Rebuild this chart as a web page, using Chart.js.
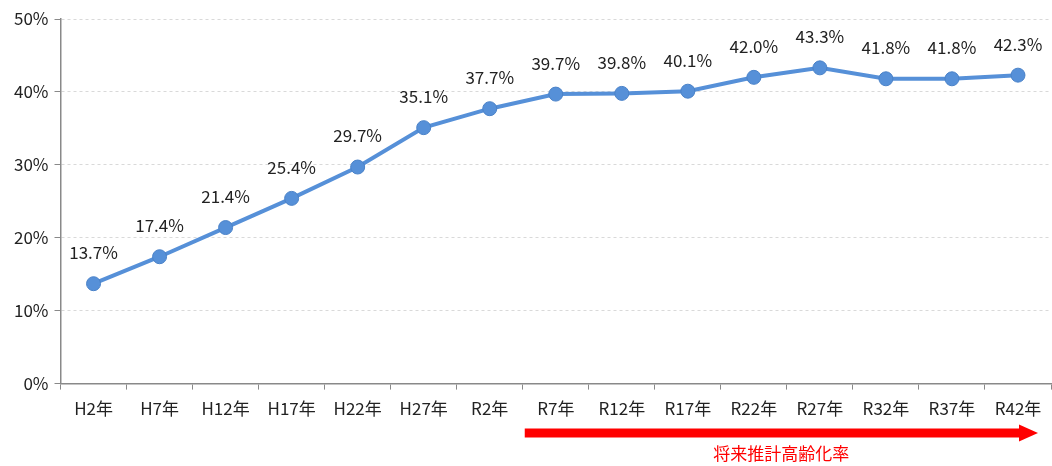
<!DOCTYPE html>
<html>
<head>
<meta charset="utf-8">
<script src="https://cdn.jsdelivr.net/npm/chart.js@4"></script>
<style>
  html, body { margin: 0; padding: 0; background: #fff; }
  #wrap { width: 1052px; height: 466px; }
</style>
</head>
<body>
<div id="wrap"><canvas id="chart" width="1052" height="466"></canvas></div>
<script>
var years = ['H2年', 'H7年', 'H12年', 'H17年', 'H22年', 'H27年', 'R2年', 'R7年', 'R12年', 'R17年', 'R22年', 'R27年', 'R32年', 'R37年', 'R42年'];
var agingRate = [13.7, 17.4, 21.4, 25.4, 29.7, 35.1, 37.7, 39.7, 39.8, 40.1, 42.0, 43.3, 41.8, 41.8, 42.3];
var yTicks = [0, 10, 20, 30, 40, 50];
var forecastFrom = 'R7年';
var forecastLabel = '将来推計高齢化率';

var FONT = '"Noto Sans CJK JP", "Noto Sans", sans-serif';

// value labels above each point
var pointLabels = {
  id: 'pointLabels',
  afterDatasetsDraw: function (chart) {
    var ctx = chart.ctx;
    var meta = chart.getDatasetMeta(0);
    ctx.save();
    ctx.font = '17px ' + FONT;
    ctx.fillStyle = '#222';
    ctx.textAlign = 'center';
    ctx.textBaseline = 'middle';
    meta.data.forEach(function (pt, i) {
      ctx.fillText(agingRate[i].toFixed(1) + '%', pt.x, pt.y - 31);
    });
    ctx.restore();
  }
};

// red forecast arrow under the x axis
var forecastArrow = {
  id: 'forecastArrow',
  afterDraw: function (chart) {
    var x = chart.scales.x;
    var ctx = chart.ctx;
    var idx = years.indexOf(forecastFrom);
    var half = (x.getPixelForValue(1) - x.getPixelForValue(0)) / 2;
    var x0 = x.getPixelForValue(idx) - half + 2;
    var x1 = chart.chartArea.right - 13;
    var y = 433;
    ctx.save();
    ctx.fillStyle = '#ff0000';
    ctx.fillRect(x0, y - 4.5, x1 - x0 - 18, 9);
    ctx.beginPath();
    ctx.moveTo(x1 - 19, y - 8.5);
    ctx.lineTo(x1, y);
    ctx.lineTo(x1 - 19, y + 8.5);
    ctx.closePath();
    ctx.fill();
    ctx.font = '17px ' + FONT;
    ctx.textAlign = 'center';
    ctx.textBaseline = 'middle';
    ctx.fillText(forecastLabel, (x0 + x1) / 2, 454);
    ctx.restore();
  }
};

new Chart(document.getElementById('chart'), {
  type: 'line',
  data: {
    labels: years,
    datasets: [{
      data: agingRate,
      borderColor: '#5690d8',
      backgroundColor: '#5690d8',
      borderWidth: 4,
      pointRadius: 7,
      pointHoverRadius: 7,
      pointBackgroundColor: '#5690d8',
      pointBorderColor: '#4a82c8',
      pointBorderWidth: 1,
      tension: 0
    }]
  },
  options: {
    responsive: false,
    animation: false,
    layout: { autoPadding: false, padding: { top: 19, right: 1, bottom: 38, left: 8 } },
    plugins: {
      legend: { display: false },
      tooltip: { enabled: false }
    },
    scales: {
      x: {
        offset: true,
        grid: {
          offset: true,
          drawOnChartArea: false,
          drawTicks: true,
          tickLength: 6,
          tickColor: '#898989',
          tickWidth: 1
        },
        border: { color: '#898989', width: 1.5 },
        ticks: {
          color: '#222',
          font: { family: FONT, size: 17 },
          padding: 9,
          maxRotation: 0,
          autoSkip: false
        }
      },
      y: {
        min: 0,
        max: 50,
        afterBuildTicks: function (axis) {
          axis.ticks = yTicks.map(function (v) { return { value: v }; });
        },
        grid: {
          color: '#d9d9d9',
          tickLength: 6,
          tickColor: '#898989',
          tickBorderDash: []
        },
        border: { color: '#898989', width: 1.5, dash: [3, 3] },
        ticks: {
          color: '#222',
          font: { family: FONT, size: 17 },
          padding: 6,
          callback: function (v) { return v + '%'; }
        }
      }
    }
  },
  plugins: [pointLabels, forecastArrow]
});
</script>
</body>
</html>
